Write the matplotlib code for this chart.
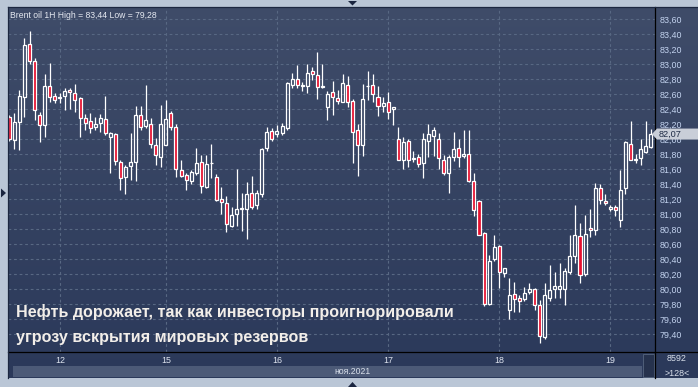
import numpy as np
import matplotlib
matplotlib.use("Agg")
import matplotlib.pyplot as plt
from matplotlib.patches import Rectangle, Polygon
from matplotlib.lines import Line2D
from matplotlib.colors import LinearSegmentedColormap

W, H = 698, 387

# Brent oil, 1H candles (open / high / low / close)
opens = [82.30, 81.99, 82.23, 82.57, 83.27, 83.05, 82.33, 82.19, 82.71, 82.58,
         82.55, 82.58, 82.66, 82.62, 82.55, 82.29, 82.25, 82.16, 82.22, 82.27,
         82.03, 82.07, 81.70, 81.50, 81.64, 81.70, 82.32, 82.18, 82.20, 81.92,
         81.77, 81.92, 82.35, 82.17, 81.59, 81.52, 81.45, 81.55, 81.70, 81.37,
         81.69, 81.50, 81.20, 81.15, 80.84, 81.00, 81.07, 81.07, 81.28, 81.12,
         81.27, 81.88, 82.11, 82.07, 82.09, 82.15, 82.72, 82.81, 82.71, 82.71,
         82.91, 82.86, 82.70, 82.43, 82.63, 82.55, 82.50, 82.73, 82.51, 82.12,
         81.92, 82.71, 82.73, 82.57, 82.45, 82.50, 82.40, 82.01, 81.72, 81.98,
         81.74, 81.76, 81.68, 81.98, 82.04, 82.00, 81.73, 81.55, 81.77, 81.88,
         81.78, 81.81, 81.45, 81.18, 80.75, 79.81, 80.40, 80.58, 80.22, 79.73,
         79.94, 79.89, 79.87, 79.96, 80.01, 79.79, 79.36, 79.89, 80.00, 80.00,
         80.01, 80.23, 80.44, 80.71, 80.21, 80.82, 80.79, 81.35, 81.18, 81.07,
         81.10, 80.93, 81.35, 81.94, 81.73, 81.75, 81.83, 81.90]
highs = [82.32, 82.35, 82.66, 83.35, 83.44, 83.08, 82.36, 82.87, 83.02, 82.62,
         82.62, 82.69, 82.69, 82.74, 82.57, 82.34, 82.35, 82.30, 82.34, 82.58,
         82.10, 82.09, 81.72, 81.66, 82.09, 82.44, 82.44, 82.72, 82.29, 82.02,
         82.46, 82.52, 82.38, 82.20, 81.72, 81.55, 81.59, 81.88, 81.79, 81.79,
         81.94, 81.54, 81.37, 81.24, 81.10, 81.60, 81.28, 81.43, 81.51, 81.33,
         81.88, 82.16, 82.15, 82.19, 82.22, 82.77, 82.89, 82.99, 82.76, 83.00,
         82.97, 83.16, 83.00, 82.64, 82.78, 82.66, 82.87, 82.84, 82.54, 82.20,
         82.74, 82.91, 82.87, 82.71, 82.57, 82.63, 82.43, 82.16, 82.03, 82.01,
         81.85, 81.81, 82.08, 82.21, 82.17, 82.08, 81.79, 81.79, 82.10, 82.01,
         82.13, 82.13, 81.55, 81.19, 80.77, 80.46, 80.72, 80.59, 80.29, 80.15,
         80.10, 79.92, 80.03, 80.09, 80.02, 79.86, 80.08, 80.33, 80.23, 80.35,
         80.28, 80.73, 81.12, 80.88, 80.99, 81.07, 81.42, 81.40, 81.27, 81.13,
         81.13, 81.59, 81.98, 82.24, 81.81, 82.01, 82.24, 82.14]
lows = [81.98, 81.87, 81.86, 82.30, 83.00, 82.26, 81.97, 82.03, 82.50, 82.48,
        82.48, 82.39, 82.40, 82.37, 82.03, 82.12, 82.09, 82.12, 82.10, 82.06,
        81.55, 81.66, 81.33, 81.27, 81.46, 81.45, 82.12, 82.15, 81.88, 81.66,
        81.63, 81.92, 82.13, 81.50, 81.50, 81.33, 81.40, 81.52, 81.29, 81.35,
        81.49, 81.18, 81.01, 80.77, 80.83, 80.84, 80.78, 80.67, 81.07, 81.07,
        81.23, 81.85, 81.98, 82.03, 82.06, 82.13, 82.68, 82.69, 82.65, 82.62,
        82.79, 82.54, 82.68, 82.26, 82.32, 82.47, 82.50, 82.43, 81.68, 81.51,
        81.78, 82.53, 82.50, 82.31, 82.37, 82.27, 82.19, 81.73, 81.61, 81.63,
        81.70, 81.63, 81.49, 81.77, 81.78, 81.61, 81.52, 81.29, 81.71, 81.63,
        81.75, 81.43, 80.98, 80.72, 79.78, 79.79, 80.38, 80.02, 80.17, 79.60,
        79.70, 79.70, 79.85, 79.94, 79.72, 79.28, 79.34, 79.85, 79.88, 79.89,
        79.79, 80.20, 80.35, 80.09, 80.18, 80.70, 80.72, 81.14, 81.13, 81.04,
        80.98, 80.83, 81.27, 81.72, 81.68, 81.66, 81.82, 81.89]
closes = [82.00, 82.23, 82.58, 83.26, 83.04, 82.39, 82.19, 82.71, 82.57, 82.52,
          82.56, 82.65, 82.63, 82.53, 82.28, 82.22, 82.15, 82.21, 82.28, 82.09,
          82.08, 81.71, 81.49, 81.63, 81.70, 82.32, 82.16, 82.26, 81.94, 81.79,
          82.20, 82.27, 82.17, 81.60, 81.51, 81.46, 81.56, 81.69, 81.38, 81.67,
          81.68, 81.19, 81.16, 80.87, 80.99, 81.07, 81.08, 81.27, 81.10, 81.28,
          81.87, 82.10, 82.01, 82.11, 82.18, 82.75, 82.81, 82.72, 82.72, 82.89,
          82.87, 82.70, 82.70, 82.61, 82.56, 82.51, 82.75, 82.50, 82.10, 81.92,
          82.54, 82.71, 82.60, 82.44, 82.49, 82.36, 82.43, 81.73, 81.97, 81.73,
          81.75, 81.67, 82.00, 82.07, 82.12, 81.75, 81.55, 81.76, 81.87, 81.76,
          81.80, 81.45, 81.06, 80.73, 79.80, 80.38, 80.56, 80.23, 80.28, 79.92,
          79.87, 79.85, 79.95, 80.00, 79.79, 79.38, 79.93, 79.99, 80.04, 80.04,
          80.25, 80.44, 80.72, 80.19, 80.74, 80.79, 81.35, 81.19, 81.15, 81.10,
          81.06, 81.33, 81.97, 81.73, 81.73, 81.87, 81.91, 82.07]

day_labels = ["12", "15", "16", "17", "18", "19"]
day_starts = [10, 31, 53, 75, 97, 119]
price_ticks = [83.6, 83.4, 83.2, 83.0, 82.8, 82.6, 82.4, 82.2, 82.0, 81.8, 81.6,
               81.4, 81.2, 81.0, 80.8, 80.6, 80.4, 80.2, 80.0, 79.8, 79.6, 79.4]
last_price = 82.07
title = "Brent oil 1H High = 83,44 Low = 79,28"
headline = ["Нефть дорожает, так как инвесторы проигнорировали",
            "угрозу вскрытия мировых резервов"]
month_label = "ноя.2021"
bars_count = "8592"
visible_bars = ">128<"


def fx(px):
    return px / W


def fy(py):
    return 1 - py / H


def comma(v):
    return f"{v:.2f}".replace(".", ",")


plt.rcParams["font.family"] = ["Liberation Sans", "DejaVu Sans"]

fig = plt.figure(figsize=(W / 100, H / 100), dpi=100, facecolor="#bac6d6")

# фон с градиентом (график + правая шкала + нижняя полоса)
bg = fig.add_axes([fx(8), fy(378), fx(698) - fx(8), fy(7) - fy(378)])
cmap = LinearSegmentedColormap.from_list("bg", ["#3f4c69", "#2b395a"])
bg.imshow(np.linspace(0, 1, 256).reshape(-1, 1), cmap=cmap, aspect="auto",
          extent=[0, 1, 0, 1])
bg.axis("off")

ax = fig.add_axes([fx(8), fy(352.3), fx(655) - fx(8), fy(7.3) - fy(352.3)])
ax.set_facecolor("none")
n = len(opens)
x = np.arange(n)
ax.set_xlim(-0.26, n - 1 + 0.85)
ax.set_ylim(79.16, 83.76)

# сетка
for p in price_ticks:
    ax.axhline(p, color="#586883", linewidth=0.8, linestyle=(0, (2.5, 2.5)), zorder=1)
for d in day_starts:
    ax.axvline(d, color="#586883", linewidth=0.8, linestyle=(0, (2.5, 2.5)), zorder=1)

o = np.array(opens)
c = np.array(closes)
hi = np.array(highs)
lo = np.array(lows)
top = np.maximum(o, c)
bot = np.minimum(o, c)
up = c >= o

ax.vlines(x, top, hi, color="white", linewidth=0.9, zorder=2)
ax.vlines(x, lo, bot, color="white", linewidth=0.9, zorder=2)
ax.bar(x[up], np.maximum(top[up] - bot[up], 0.004), bottom=bot[up], width=0.6,
       facecolor="none", edgecolor="white", linewidth=0.9, zorder=3)
ax.bar(x[~up], np.maximum(top[~up] - bot[~up], 0.004), bottom=bot[~up], width=0.6,
       facecolor="#e5102e", edgecolor="white", linewidth=0.9, zorder=3)

for s in ax.spines.values():
    s.set_visible(False)

ax.yaxis.tick_right()
ax.set_yticks(price_ticks)
ax.set_yticklabels([comma(p) for p in price_ticks])
ax.tick_params(axis="y", length=0, pad=3, labelsize=6.4, labelcolor="#c3d3ef")
ax.set_xticks(day_starts)
ax.set_xticklabels(day_labels)
ax.tick_params(axis="x", length=0, pad=2.5, labelsize=6.4, labelcolor="#dfe5f0")

# нижняя полоса с месяцем
fig.patches.append(Rectangle((fx(12.7), fy(377)), fx(642) - fx(12.7), fy(366) - fy(377),
                             transform=fig.transFigure, facecolor="#4c5a77",
                             edgecolor="none", zorder=1))
fig.patches.append(Rectangle((fx(643), fy(377)), fx(654) - fx(643), fy(354) - fy(377),
                             transform=fig.transFigure, facecolor="#26324d",
                             edgecolor="#56657f", linewidth=0.6, zorder=1))
fig.text(fx(352), fy(371.5), month_label, color="#d8dfea", fontsize=6.2,
         ha="center", va="center")
fig.text(fx(677), fy(358.5), bars_count, color="#d8dfea", fontsize=6.4,
         ha="center", va="center")
fig.text(fx(677), fy(373), visible_bars, color="#d8dfea", fontsize=6.4,
         ha="center", va="center")

# рамки
line_kw = dict(transform=fig.transFigure, zorder=5)
fig.lines.append(Line2D([fx(655), fx(655)], [fy(7), fy(378)], color="black", linewidth=0.9, **line_kw))
fig.lines.append(Line2D([fx(8), fx(698)], [fy(352.3), fy(352.3)], color="black", linewidth=0.9, **line_kw))
fig.lines.append(Line2D([fx(8), fx(8)], [fy(7), fy(378)], color="#1c2740", linewidth=0.9, **line_kw))
fig.lines.append(Line2D([fx(8), fx(698)], [fy(7), fy(7)], color="#1c2740", linewidth=0.9, **line_kw))

# маркеры-треугольники
tri_kw = dict(transform=fig.transFigure, facecolor="#1a2540", edgecolor="none", zorder=5)
fig.patches.append(Polygon([(fx(348), fy(1)), (fx(357), fy(1)), (fx(352.5), fy(5.5))], **tri_kw))
fig.patches.append(Polygon([(fx(348), fy(387)), (fx(357), fy(387)), (fx(352.5), fy(382))], **tri_kw))
fig.patches.append(Polygon([(fx(1), fy(188.5)), (fx(1), fy(197.5)), (fx(6), fy(193))], **tri_kw))

# метка последней цены
ly = 19.3 + (83.6 - last_price) * 75
fig.patches.append(Polygon([(fx(652), fy(ly)), (fx(657), fy(ly - 5.5)), (fx(698), fy(ly - 5.5)),
                            (fx(698), fy(ly + 5.5)), (fx(657), fy(ly + 5.5))],
                           transform=fig.transFigure, facecolor="#c9ced8",
                           edgecolor="none", zorder=6))
fig.text(fx(659), fy(ly), comma(last_price), color="#1f2b45", fontsize=6.6,
         ha="left", va="center", zorder=7)

fig.text(fx(10), fy(15), title, color="#e6eaf2", fontsize=6.2, ha="left", va="center")

fig.text(fx(16.5), fy(317.3), headline[0], color="#f2eee9", fontsize=11.65,
         fontweight="bold", ha="left", va="baseline")
fig.text(fx(16.5), fy(341.7), headline[1], color="#f2eee9", fontsize=11.65,
         fontweight="bold", ha="left", va="baseline")

fig.savefig("out.png", dpi=100, facecolor=fig.get_facecolor())
